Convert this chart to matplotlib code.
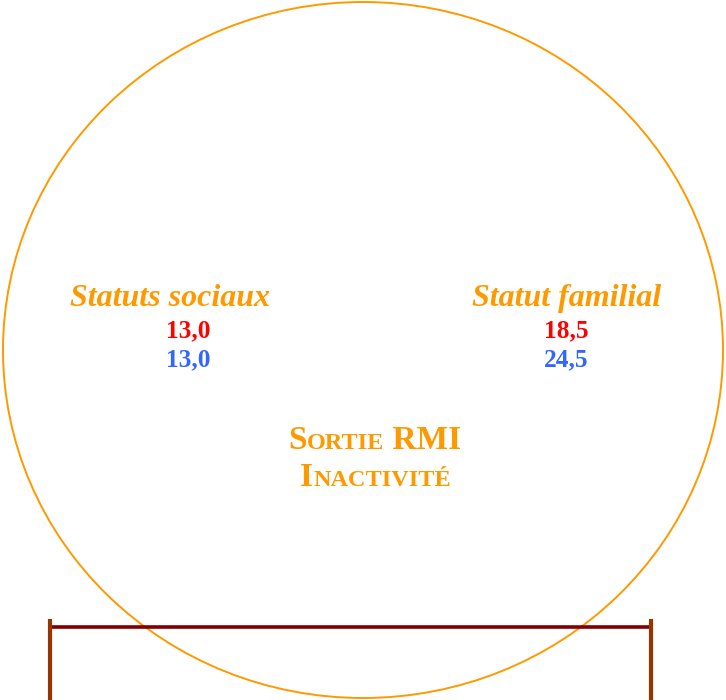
import matplotlib.pyplot as plt
from matplotlib.patches import Ellipse

# data
groupes = ["Statuts sociaux", "Statut familial"]
valeurs_rouge = ["13,0", "18,5"]
valeurs_bleu = ["13,0", "24,5"]
titre = [["S", "ORTIE", " RMI"], ["I", "NACTIVITÉ"]]

orange = "#FF9900"
serif = ["Liberation Serif", "DejaVu Serif"]

fig = plt.figure(figsize=(7.26, 7.0), dpi=100)
ax = fig.add_axes([0, 0, 1, 1])
ax.set_xlim(0, 726)
ax.set_ylim(700, 0)
ax.axis("off")

ax.add_patch(Ellipse((363, 350), 720, 696, fill=False, ec=orange, lw=1.4))

# bracket at bottom
ax.plot([50, 650], [626.5, 626.5], color="#800000", lw=2.6, solid_capstyle="butt")
ax.plot([50, 50], [619, 700], color="#993300", lw=3, solid_capstyle="butt")
ax.plot([650.5, 650.5], [619, 700], color="#993300", lw=3, solid_capstyle="butt")

# columns
xs_titre = [169.5, 566.5]
xs_val = [188, 566]
for i in range(len(groupes)):
    ax.text(xs_titre[i], 306, groupes[i], color=orange, fontsize=23,
            family=serif, weight="bold", style="italic", ha="center", va="baseline")
    ax.text(xs_val[i], 337.5, valeurs_rouge[i], color="#FF0000", fontsize=18.3,
            family=serif, weight="bold", ha="center", va="baseline")
    ax.text(xs_val[i], 366.5, valeurs_bleu[i], color="#3366FF", fontsize=18.3,
            family=serif, weight="bold", ha="center", va="baseline")

# small caps centre title
renderer = fig.canvas.get_renderer()
def small_caps(pieces, xc, y, big=24, small=17.5):
    arts = []
    for k, p in enumerate(pieces):
        size = small if k % 2 == 1 else big
        t = ax.text(0, y, p, color=orange, fontsize=size, family=serif,
                    weight="bold", ha="left", va="baseline")
        arts.append(t)
    widths = [a.get_window_extent(renderer).width for a in arts]
    x = xc - sum(widths) / 2
    for a, w in zip(arts, widths):
        a.set_x(x)
        x += w

small_caps(titre[0], 375, 449)
small_caps(titre[1], 375.5, 486)

fig.savefig("out.png", dpi=100)
